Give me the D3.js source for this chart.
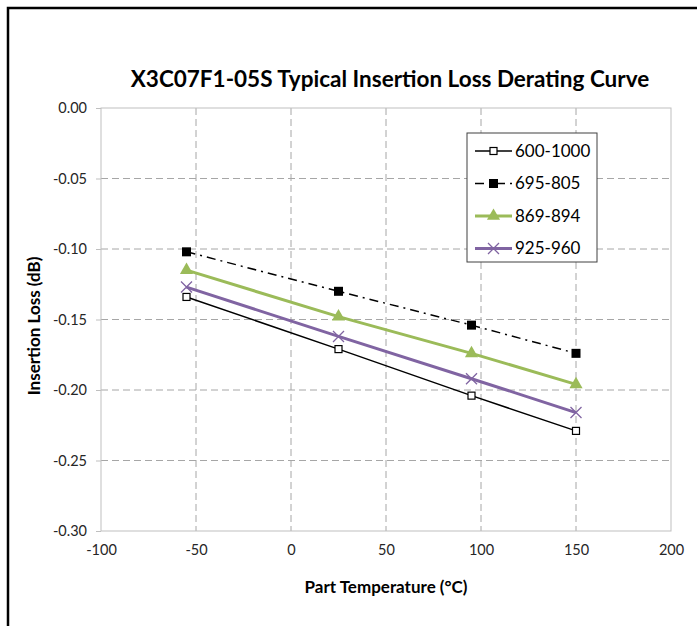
<!DOCTYPE html>
<html lang="en">
<head>
    <meta charset="UTF-8">
    <title>X3C07F1-05S Typical Insertion Loss Derating Curve</title>
    <script src="https://d3js.org/d3.v7.min.js"></script>
    <style>
        body { margin: 0; background: #fff; }
        text { font-family: Lato, "Open Sans", sans-serif; }
    </style>
</head>
<body>
<div id="chart"></div>
<script>
    // data
    const temps = [-55, 25, 95, 150];
    const seriesNames = ["600-1000", "695-805", "869-894", "925-960"];
    const loss600 = [-0.134, -0.171, -0.204, -0.229];
    const loss695 = [-0.102, -0.130, -0.154, -0.174];
    const loss869 = [-0.115, -0.148, -0.174, -0.196];
    const loss925 = [-0.127, -0.162, -0.192, -0.216];
    const xTicks = [-100, -50, 0, 50, 100, 150, 200];
    const yTicks = [0, -0.05, -0.10, -0.15, -0.20, -0.25, -0.30];

    const W = 697, H = 626;
    const plot = {left: 101, top: 108, right: 671, bottom: 531};

    const svg = d3.select("#chart").append("svg")
        .attr("width", W).attr("height", H);

    // outer frame (top and left visible, the rest runs off the picture)
    svg.append("path")
        .attr("d", `M8,${H} L8,8 L${W},8`)
        .attr("fill", "none").attr("stroke", "#000").attr("stroke-width", 2.5);

    const x = d3.scaleLinear().domain([-100, 200]).range([plot.left, plot.right]);
    const y = d3.scaleLinear().domain([-0.30, 0]).range([plot.bottom, plot.top]);

    // grid
    svg.append("g").selectAll("line").data(xTicks.slice(1, -1)).join("line")
        .attr("x1", d => x(d)).attr("x2", d => x(d))
        .attr("y1", plot.top).attr("y2", plot.bottom)
        .attr("stroke", "#a6a6a6").attr("stroke-dasharray", "7,4");
    svg.append("g").selectAll("line").data(yTicks.slice(1, -1)).join("line")
        .attr("x1", plot.left).attr("x2", plot.right)
        .attr("y1", d => y(d)).attr("y2", d => y(d))
        .attr("stroke", "#a6a6a6").attr("stroke-dasharray", "7,4");

    // plot border
    svg.append("rect")
        .attr("x", plot.left).attr("y", plot.top)
        .attr("width", plot.right - plot.left).attr("height", plot.bottom - plot.top)
        .attr("fill", "none").attr("stroke", "#bfbfbf");

    // axes (plain hyphen for negatives, like the original)
    const hy = f => d => f(d).replace("\u2212", "-");
    const yAxis = svg.append("g")
        .attr("transform", `translate(${plot.left},0)`)
        .call(d3.axisLeft(y).tickValues(yTicks).tickFormat(hy(d3.format(".2f"))).tickSize(5).tickPadding(9));
    const xAxis = svg.append("g")
        .attr("transform", `translate(0,${plot.bottom})`)
        .call(d3.axisBottom(x).tickValues(xTicks).tickFormat(hy(d3.format("d"))).tickSize(0).tickPadding(14));
    [yAxis, xAxis].forEach(a => {
        a.select(".domain").remove();
        a.selectAll("line").attr("stroke", "#bfbfbf");
        a.selectAll("text").attr("font-size", 14.5).attr("fill", "#262626")
            .attr("font-family", "Lato, sans-serif");
    });
    xAxis.selectAll("text").attr("dy", "0.71em");

    // titles
    svg.append("text")
        .attr("x", 390).attr("y", 87)
        .attr("text-anchor", "middle")
        .attr("font-size", 22.5).attr("font-weight", "bold")
        .text("X3C07F1-05S Typical Insertion Loss Derating Curve");
    svg.append("text")
        .attr("x", 386).attr("y", 593)
        .attr("text-anchor", "middle")
        .attr("font-size", 17).attr("font-weight", "bold")
        .text("Part Temperature (°C)");
    svg.append("text")
        .attr("transform", "translate(40,326) rotate(-90)")
        .attr("text-anchor", "middle")
        .attr("font-size", 17).attr("font-weight", "bold")
        .text("Insertion Loss (dB)");

    // series styles
    const styles = [
        {values: loss600, color: "#000", width: 1.5, dash: null, marker: "openSquare"},
        {values: loss695, color: "#000", width: 1.5, dash: "9,5,2,5", marker: "square"},
        {values: loss869, color: "#9bbb59", width: 3, dash: null, marker: "triangle"},
        {values: loss925, color: "#8064a2", width: 3, dash: null, marker: "cross"}
    ];

    function drawMarker(g, type, color) {
        if (type === "openSquare") {
            g.append("rect").attr("x", -3.5).attr("y", -3.5).attr("width", 7).attr("height", 7)
                .attr("fill", "#fff").attr("stroke", color).attr("stroke-width", 1.2);
        } else if (type === "square") {
            g.append("rect").attr("x", -4.5).attr("y", -4.5).attr("width", 9).attr("height", 9)
                .attr("fill", color);
        } else if (type === "triangle") {
            g.append("path").attr("d", d3.symbol(d3.symbolTriangle, 75)()).attr("fill", color);
        } else {
            g.append("path").attr("d", "M-5.5,-5.5L5.5,5.5M-5.5,5.5L5.5,-5.5")
                .attr("stroke", color).attr("stroke-width", 1.3).attr("fill", "none");
        }
    }

    const line = d3.line().x(d => x(d[0])).y(d => y(d[1]));

    styles.forEach(s => {
        const pts = temps.map((t, i) => [t, s.values[i]]);
        svg.append("path")
            .datum(pts)
            .attr("d", line)
            .attr("fill", "none")
            .attr("stroke", s.color)
            .attr("stroke-width", s.width)
            .attr("stroke-dasharray", s.dash);
        pts.forEach(p => {
            const g = svg.append("g").attr("transform", `translate(${x(p[0])},${y(p[1])})`);
            drawMarker(g, s.marker, s.color);
        });
    });

    // legend
    const leg = svg.append("g").attr("transform", "translate(467,133)");
    leg.append("rect").attr("width", 130).attr("height", 129)
        .attr("fill", "#fff").attr("stroke", "#404040").attr("stroke-width", 1);
    styles.forEach((s, i) => {
        const cy = 18 + i * 32.5;
        leg.append("line")
            .attr("x1", 8).attr("x2", 45).attr("y1", cy).attr("y2", cy)
            .attr("stroke", s.color).attr("stroke-width", s.width)
            .attr("stroke-dasharray", s.dash);
        drawMarker(leg.append("g").attr("transform", `translate(26.5,${cy})`), s.marker, s.color);
        leg.append("text")
            .attr("x", 48).attr("y", cy).attr("dy", "0.35em")
            .attr("font-size", 17).attr("fill", "#000")
            .text(seriesNames[i]);
    });
</script>
</body>
</html>
